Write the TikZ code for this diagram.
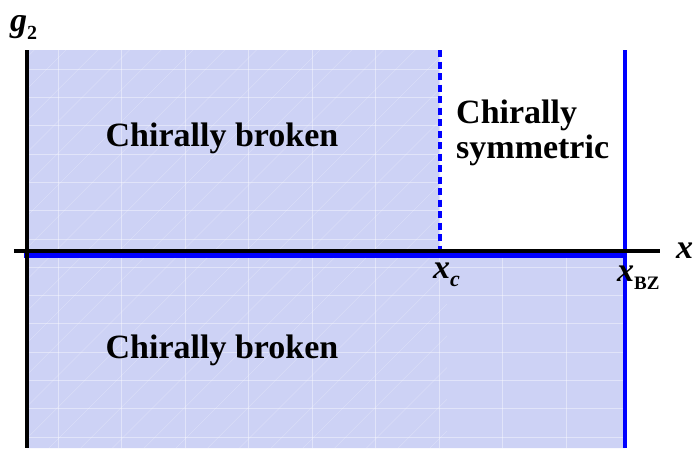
\documentclass[tikz,border=0pt]{standalone}
\usepackage{fontspec}
\setmainfont{Liberation Serif}
\newfontfamily\lblfont{Liberation Serif}
\usepackage{tikz}
\usetikzlibrary{positioning}
\definecolor{phasefill}{RGB}{205,210,245}
\definecolor{edgeblue}{RGB}{0,0,255}
\newcommand{\lowsub}[2]{\raisebox{-8pt}{\fontsize{#1}{#1}\selectfont #2}}

\begin{document}
\begin{tikzpicture}[x=1pt,y=1pt,
    lbl/.style={font=\lblfont\fontsize{34}{35}\selectfont\bfseries,inner sep=0pt},
    axisline/.style={black,line width=4.5pt},
    wall/.style={edgeblue,line width=4.5pt},
    seam/.style={white,line width=.6pt,opacity=.4}]
  \useasboundingbox (-27,-197) rectangle (667,251);
  % corners of the phase plane
  \coordinate (O) at (0,0);
  \coordinate (top) at (0,201);
  \coordinate (bot) at (0,-197);
  \coordinate (xl) at (-13,0);
  \coordinate (xr) at (633,0);
  \coordinate (xcTop) at (413,201);
  \coordinate (xcAx) at (413,2);
  \coordinate (bzTop) at (598,201);
  \coordinate (bzBot) at (598,-197);
  % broken phase region
  \fill[phasefill] (top) -- (xcTop) -- (413,0) -- (598,0) -- (bzBot) -- (bot) -- cycle;
  \begin{scope}
    \clip (top) -- (xcTop) -- (413,0) -- (598,0) -- (bzBot) -- (bot) -- cycle;
    \foreach \x in {31,94.5,...,600}
      \draw[seam] (\x,-197) -- (\x,201);
    \foreach \y in {182,153.7,...,-197}
      \draw[seam] (0,\y) -- (598,\y);
    \foreach \c in {-600,-568.25,...,210}
      \draw[seam,opacity=.25] (0,\c) -- (420,\c+420);
  \end{scope}
  \draw[wall] (-3,-4.5) -- (598,-4.5);
  \draw[wall,dash pattern=on 7pt off 4.5pt] (xcTop) -- (xcAx);
  \draw[wall] (bzTop) -- (bzBot);
  \draw[axisline] (xl) -- (xr);
  \draw[axisline] (top) -- (bot);
  % labels
  \node[lbl,anchor=base west] (g2) at (-17,220) {\textit{g}\lowsub{20}{2}};
  \node[lbl,anchor=west,right=16pt of xr] (xlab) {\textit{x}};
  \node[lbl,anchor=base west] (xclab) at (406,-27) {\textit{x}\lowsub{22}{\textit{c}}};
  \node[lbl,anchor=base west] (bzlab) at (590,-30) {\textit{x}\lowsub{19}{BZ}};
  \node[lbl] (brokenUp) at (195,113) {Chirally broken};
  \node[lbl] (brokenDn) at (195,-99) {Chirally broken};
  \node[lbl,align=left,anchor=north west] (symm) at (429,151) {Chirally\\symmetric};
\end{tikzpicture}
\end{document}
